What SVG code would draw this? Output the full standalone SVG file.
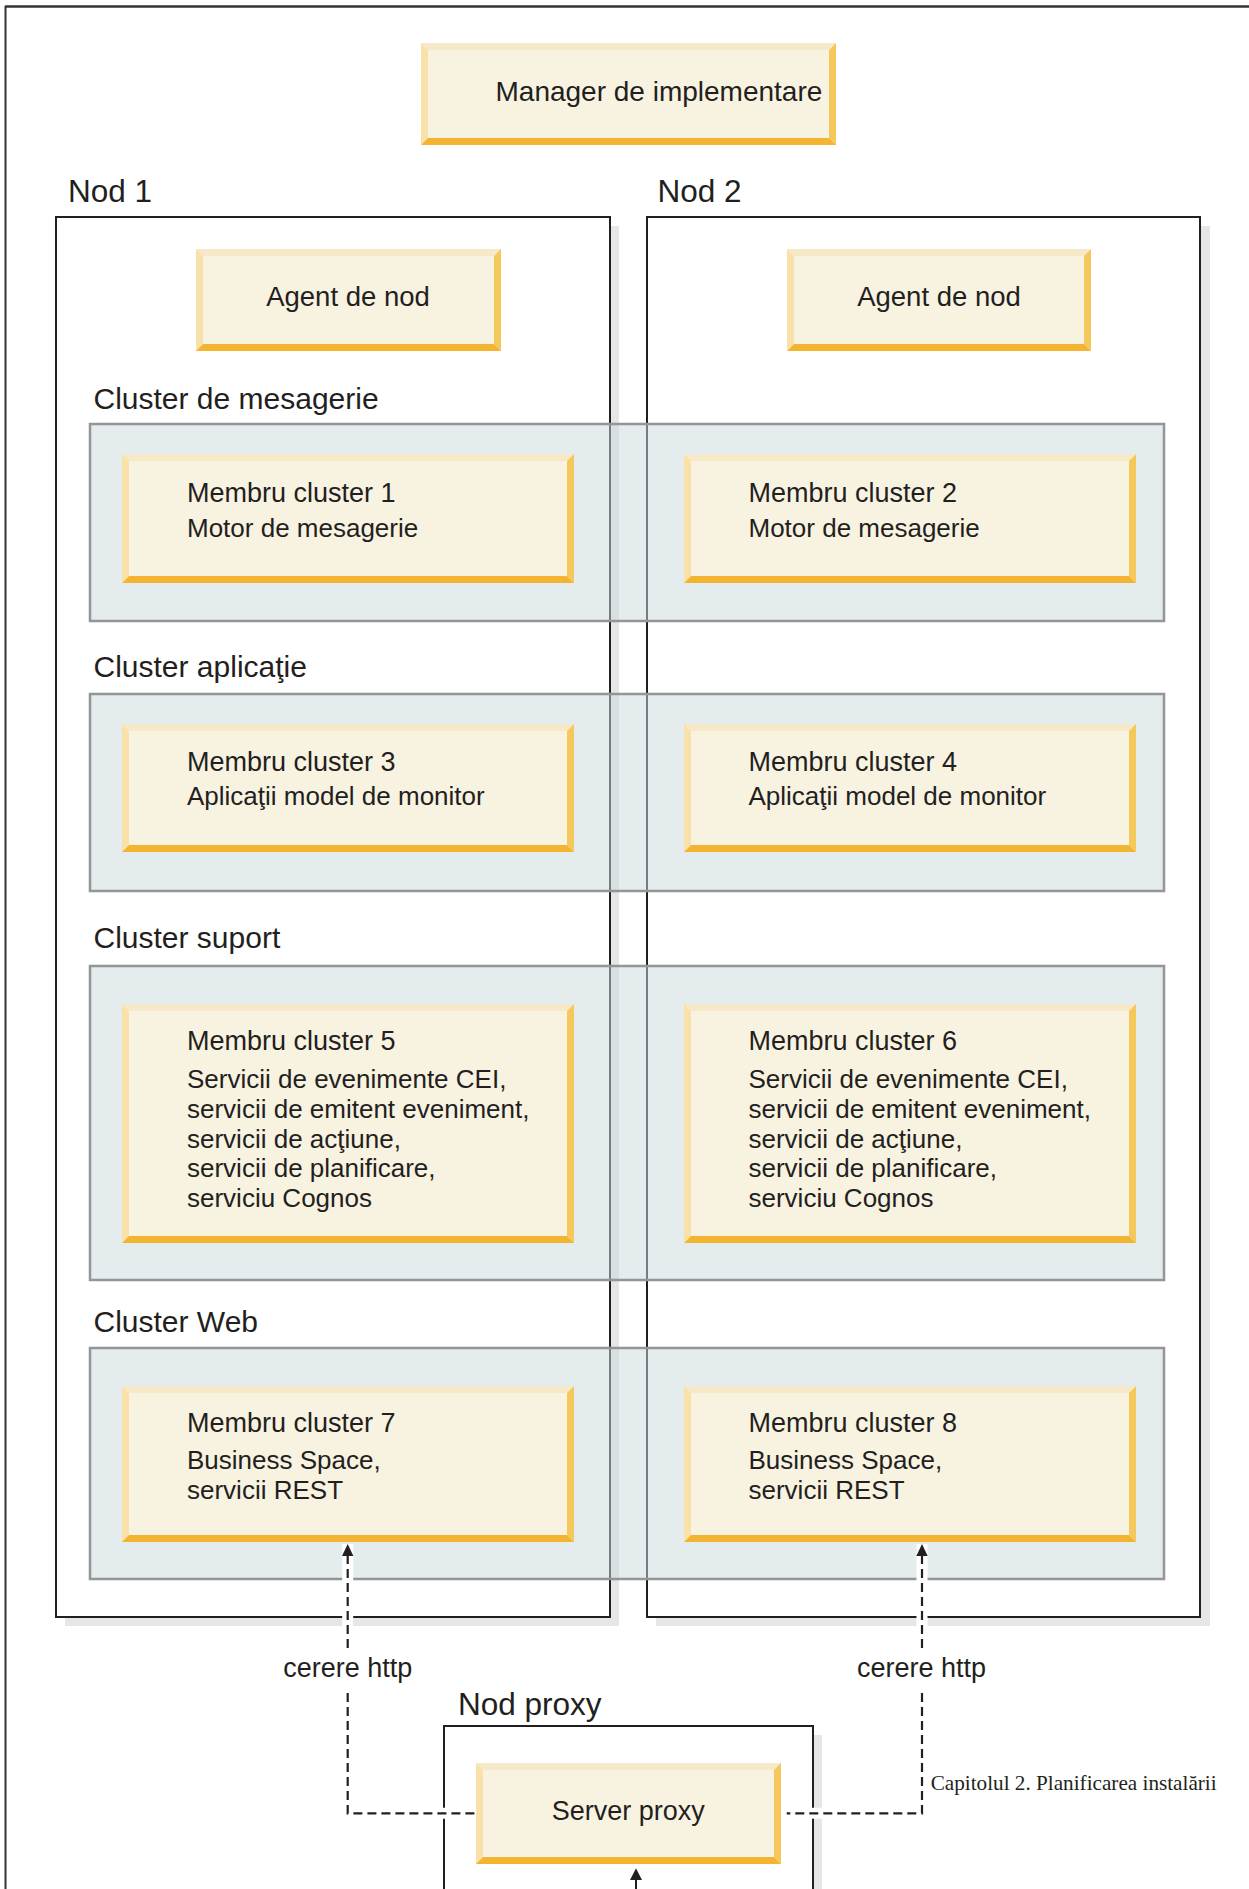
<svg xmlns="http://www.w3.org/2000/svg" width="1249" height="1889" viewBox="0 0 1249 1889">
<style>
text{font-family:"Liberation Sans",Arial,Helvetica,sans-serif;fill:#231f20}
.t27{font-size:27px}
.t26{font-size:26px}
.t28{font-size:28px}
.lbl{font-size:30px}
.nod{font-size:31.5px}
.foot{font-family:"Liberation Serif","Times New Roman",serif;font-size:21.2px}
.mid{text-anchor:middle}
.in{fill:#f8f2e1}
.bt{fill:#f6e9c9}
.bl{fill:#f8e2aa}
.br{fill:#f4c85a}
.bb{fill:#f3b531}
.shadow{fill:#e6e6e6}
.node{fill:#fff;stroke:#231f20;stroke-width:2}
.cluster{fill:#c9d9dd;fill-opacity:.5;stroke:#939598;stroke-width:2.5}
.halo{fill:none;stroke:#fff;stroke-width:11}
.dash{fill:none;stroke:#231f20;stroke-width:2.2;stroke-dasharray:9 5}
.solid{fill:none;stroke:#231f20;stroke-width:2}
.head{fill:#231f20}
</style>
<rect width="1249" height="1889" fill="#fff"/>
<g id="frame">
<line x1="5" y1="6.5" x2="1249" y2="6.5" stroke="#333" stroke-width="2.5"/>
<line x1="5.5" y1="6" x2="5.5" y2="1889" stroke="#333" stroke-width="2"/>
</g>
<g id="nod1">
<rect class="shadow" x="65" y="226" width="554" height="1400"/>
<rect class="node" x="56" y="217" width="554" height="1400"/>
<text class="nod" x="68" y="202">Nod 1</text>
</g>
<g id="nod2">
<rect class="shadow" x="656" y="226" width="554" height="1400"/>
<rect class="node" x="647" y="217" width="553" height="1400"/>
<text class="nod" x="657.5" y="202">Nod 2</text>
</g>
<g id="nodproxy">
<rect class="shadow" x="453" y="1735" width="369" height="170"/>
<rect class="node" x="444" y="1726" width="369" height="170"/>
<text class="nod" x="458" y="1715">Nod proxy</text>
</g>
<g id="manager">
<rect class="in" x="421" y="43" width="415" height="102"/>
<polygon class="bt" points="421,43 836,43 829,50 428,50"/>
<polygon class="bl" points="421,43 428,50 428,138 421,145"/>
<polygon class="br" points="836,43 836,145 829,138 829,50"/>
<polygon class="bb" points="421,145 428,138 829,138 836,145"/>
<text class="t28" x="495.5" y="101">Manager de implementare</text>
</g>
<g id="agent1">
<rect class="in" x="196" y="249" width="305" height="102"/>
<polygon class="bt" points="196,249 501,249 494,256 203,256"/>
<polygon class="bl" points="196,249 203,256 203,344 196,351"/>
<polygon class="br" points="501,249 501,351 494,344 494,256"/>
<polygon class="bb" points="196,351 203,344 494,344 501,351"/>
<text class="t27 mid" x="348" y="306" style="font-size:27.5px">Agent de nod</text>
</g>
<g id="agent2">
<rect class="in" x="787" y="249" width="304" height="102"/>
<polygon class="bt" points="787,249 1091,249 1084,256 794,256"/>
<polygon class="bl" points="787,249 794,256 794,344 787,351"/>
<polygon class="br" points="1091,249 1091,351 1084,344 1084,256"/>
<polygon class="bb" points="787,351 794,344 1084,344 1091,351"/>
<text class="t27 mid" x="939" y="306" style="font-size:27.5px">Agent de nod</text>
</g>
<g id="cluster-mesagerie">
<text class="lbl" x="93.5" y="409">Cluster de mesagerie</text>
<rect class="cluster" x="90" y="424" width="1074" height="197"/>
</g>
<g id="cluster-aplicatie">
<text class="lbl" x="93.5" y="677">Cluster aplicaţie</text>
<rect class="cluster" x="90" y="694" width="1074" height="197"/>
</g>
<g id="cluster-suport">
<text class="lbl" x="93.5" y="948">Cluster suport</text>
<rect class="cluster" x="90" y="966" width="1074" height="314"/>
</g>
<g id="cluster-web">
<text class="lbl" x="93.5" y="1332">Cluster Web</text>
<rect class="cluster" x="90" y="1348" width="1074" height="231"/>
</g>
<g id="membru1">
<rect class="in" x="122" y="454" width="452" height="129"/>
<polygon class="bt" points="122,454 574,454 567,461 129,461"/>
<polygon class="bl" points="122,454 129,461 129,576 122,583"/>
<polygon class="br" points="574,454 574,583 567,576 567,461"/>
<polygon class="bb" points="122,583 129,576 567,576 574,583"/>
<text class="t27" x="187" y="502">Membru cluster 1</text>
<text class="t26" x="187" y="536.5">Motor de mesagerie</text>
</g>
<g id="membru2">
<rect class="in" x="684" y="454" width="452" height="129"/>
<polygon class="bt" points="684,454 1136,454 1129,461 691,461"/>
<polygon class="bl" points="684,454 691,461 691,576 684,583"/>
<polygon class="br" points="1136,454 1136,583 1129,576 1129,461"/>
<polygon class="bb" points="684,583 691,576 1129,576 1136,583"/>
<text class="t27" x="748.5" y="502">Membru cluster 2</text>
<text class="t26" x="748.5" y="536.5">Motor de mesagerie</text>
</g>
<g id="membru3">
<rect class="in" x="122" y="724" width="452" height="128"/>
<polygon class="bt" points="122,724 574,724 567,731 129,731"/>
<polygon class="bl" points="122,724 129,731 129,845 122,852"/>
<polygon class="br" points="574,724 574,852 567,845 567,731"/>
<polygon class="bb" points="122,852 129,845 567,845 574,852"/>
<text class="t27" x="187" y="771">Membru cluster 3</text>
<text class="t26" x="187" y="805">Aplicaţii model de monitor</text>
</g>
<g id="membru4">
<rect class="in" x="684" y="724" width="452" height="128"/>
<polygon class="bt" points="684,724 1136,724 1129,731 691,731"/>
<polygon class="bl" points="684,724 691,731 691,845 684,852"/>
<polygon class="br" points="1136,724 1136,852 1129,845 1129,731"/>
<polygon class="bb" points="684,852 691,845 1129,845 1136,852"/>
<text class="t27" x="748.5" y="771">Membru cluster 4</text>
<text class="t26" x="748.5" y="805">Aplicaţii model de monitor</text>
</g>
<g id="membru5">
<rect class="in" x="122" y="1004" width="452" height="239"/>
<polygon class="bt" points="122,1004 574,1004 567,1011 129,1011"/>
<polygon class="bl" points="122,1004 129,1011 129,1236 122,1243"/>
<polygon class="br" points="574,1004 574,1243 567,1236 567,1011"/>
<polygon class="bb" points="122,1243 129,1236 567,1236 574,1243"/>
<text class="t27" x="187" y="1050">Membru cluster 5</text>
<text class="t26" x="187" y="1088.3">Servicii de evenimente CEI,</text>
<text class="t26" x="187" y="1117.8">servicii de emitent eveniment,</text>
<text class="t26" x="187" y="1147.5">servicii de acţiune,</text>
<text class="t26" x="187" y="1177.3">servicii de planificare,</text>
<text class="t26" x="187" y="1206.8">serviciu Cognos</text>
</g>
<g id="membru6">
<rect class="in" x="684" y="1004" width="452" height="239"/>
<polygon class="bt" points="684,1004 1136,1004 1129,1011 691,1011"/>
<polygon class="bl" points="684,1004 691,1011 691,1236 684,1243"/>
<polygon class="br" points="1136,1004 1136,1243 1129,1236 1129,1011"/>
<polygon class="bb" points="684,1243 691,1236 1129,1236 1136,1243"/>
<text class="t27" x="748.5" y="1050">Membru cluster 6</text>
<text class="t26" x="748.5" y="1088.3">Servicii de evenimente CEI,</text>
<text class="t26" x="748.5" y="1117.8">servicii de emitent eveniment,</text>
<text class="t26" x="748.5" y="1147.5">servicii de acţiune,</text>
<text class="t26" x="748.5" y="1177.3">servicii de planificare,</text>
<text class="t26" x="748.5" y="1206.8">serviciu Cognos</text>
</g>
<g id="membru7">
<rect class="in" x="122" y="1386" width="452" height="156"/>
<polygon class="bt" points="122,1386 574,1386 567,1393 129,1393"/>
<polygon class="bl" points="122,1386 129,1393 129,1535 122,1542"/>
<polygon class="br" points="574,1386 574,1542 567,1535 567,1393"/>
<polygon class="bb" points="122,1542 129,1535 567,1535 574,1542"/>
<text class="t27" x="187" y="1432">Membru cluster 7</text>
<text class="t26" x="187" y="1469.3">Business Space,</text>
<text class="t26" x="187" y="1499.3">servicii REST</text>
</g>
<g id="membru8">
<rect class="in" x="684" y="1386" width="452" height="156"/>
<polygon class="bt" points="684,1386 1136,1386 1129,1393 691,1393"/>
<polygon class="bl" points="684,1386 691,1393 691,1535 684,1542"/>
<polygon class="br" points="1136,1386 1136,1542 1129,1535 1129,1393"/>
<polygon class="bb" points="684,1542 691,1535 1129,1535 1136,1542"/>
<text class="t27" x="748.5" y="1432">Membru cluster 8</text>
<text class="t26" x="748.5" y="1469.3">Business Space,</text>
<text class="t26" x="748.5" y="1499.3">servicii REST</text>
</g>
<g id="connectors">
<path class="halo" d="M347.7,1544 V1813.3 H476"/>
<path class="halo" d="M922,1544 V1813.3 H786.7"/>
<path class="dash" d="M347.7,1555 V1653 M347.7,1693 V1813.3 H476"/>
<path class="dash" d="M922,1555 V1653 M922,1693 V1813.3 H786.7"/>
<polygon class="head" points="347.7,1544 342,1556 353.4,1556"/>
<polygon class="head" points="922,1544 916.3,1556 927.7,1556"/>
<path class="solid" d="M636,1879 V1889"/>
<polygon class="head" points="636,1868.3 630,1880 642,1880"/>
<text class="t27 mid" x="347.7" y="1677">cerere http</text>
<text class="t27 mid" x="921.5" y="1677">cerere http</text>
</g>
<g id="serverproxy">
<rect class="in" x="476" y="1763" width="305" height="101"/>
<polygon class="bt" points="476,1763 781,1763 774,1770 483,1770"/>
<polygon class="bl" points="476,1763 483,1770 483,1857 476,1864"/>
<polygon class="br" points="781,1763 781,1864 774,1857 774,1770"/>
<polygon class="bb" points="476,1864 483,1857 774,1857 781,1864"/>
<text class="t27" x="551.7" y="1820">Server proxy</text>
</g>
<text class="foot" x="930.7" y="1790">Capitolul 2. Planificarea instalării</text>
</svg>
